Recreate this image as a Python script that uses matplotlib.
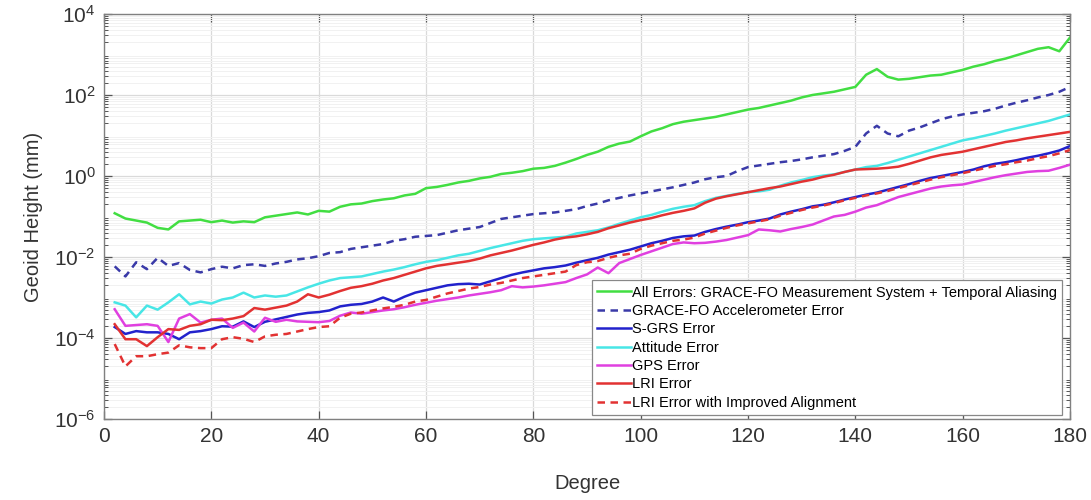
import numpy as np
import matplotlib
matplotlib.use("Agg")
import matplotlib.pyplot as plt
from matplotlib.ticker import LogLocator, NullFormatter

plt.rcParams["font.family"] = ["Liberation Sans", "DejaVu Sans"]
plt.rcParams["mathtext.default"] = "regular"

# spherical harmonic degree, every second degree
degree = np.arange(2, 181, 2)

# log10 of geoid height error (mm) per degree
all_errors = [
    -0.92, -1.05, -1.10, -1.15, -1.28, -1.32, -1.12, -1.10, -1.08, -1.14,
    -1.10, -1.15, -1.12, -1.14, -1.02, -0.98, -0.94, -0.90, -0.95, -0.86,
    -0.88, -0.76, -0.70, -0.68, -0.62, -0.58, -0.55, -0.48, -0.44, -0.30,
    -0.27, -0.22, -0.16, -0.12, -0.06, -0.02, 0.05, 0.08, 0.12, 0.18,
    0.20, 0.25, 0.33, 0.42, 0.52, 0.60, 0.72, 0.80, 0.85, 0.98,
    1.10, 1.18, 1.28, 1.34, 1.38, 1.42, 1.46, 1.52, 1.58, 1.64,
    1.68, 1.74, 1.80, 1.86, 1.94, 2.00, 2.04, 2.08, 2.14, 2.20,
    2.50, 2.64, 2.45, 2.38, 2.40, 2.44, 2.48, 2.50, 2.56, 2.62,
    2.70, 2.76, 2.84, 2.90, 2.98, 3.06, 3.14, 3.18, 3.08, 3.42,
]
accelerometer = [
    -2.23, -2.48, -2.13, -2.30, -2.02, -2.22, -2.15, -2.32, -2.38, -2.30,
    -2.24, -2.28, -2.20, -2.18, -2.22, -2.16, -2.12, -2.06, -2.03, -1.98,
    -1.90, -1.88, -1.80, -1.76, -1.72, -1.68, -1.60, -1.56, -1.50, -1.48,
    -1.46, -1.40, -1.34, -1.30, -1.26, -1.16, -1.06, -1.02, -0.98, -0.94,
    -0.92, -0.90, -0.86, -0.82, -0.74, -0.68, -0.60, -0.54, -0.48, -0.43,
    -0.38, -0.33, -0.28, -0.22, -0.16, -0.08, -0.03, 0.00, 0.12, 0.22,
    0.26, 0.30, 0.34, 0.37, 0.41, 0.46, 0.50, 0.54, 0.62, 0.72,
    1.05, 1.24, 1.05, 0.98, 1.12, 1.20, 1.30, 1.40, 1.47, 1.52,
    1.56, 1.60, 1.66, 1.74, 1.81, 1.87, 1.94, 2.00, 2.08, 2.20,
]
sgrs = [
    -3.73, -3.90, -3.83, -3.86, -3.86, -3.90, -4.03, -3.86, -3.83, -3.78,
    -3.71, -3.72, -3.59, -3.73, -3.60, -3.54, -3.48, -3.42, -3.38, -3.36,
    -3.32, -3.22, -3.18, -3.16, -3.10, -3.00, -3.10, -2.98, -2.88, -2.82,
    -2.76, -2.70, -2.67, -2.66, -2.68, -2.60, -2.52, -2.44, -2.38, -2.33,
    -2.28, -2.25, -2.21, -2.14, -2.08, -2.02, -1.94, -1.88, -1.82, -1.74,
    -1.66, -1.60, -1.53, -1.49, -1.47, -1.38, -1.31, -1.25, -1.20, -1.14,
    -1.10, -1.05, -0.95, -0.88, -0.82, -0.75, -0.71, -0.65, -0.58, -0.52,
    -0.46, -0.41, -0.34, -0.27, -0.20, -0.12, -0.05, 0.00, 0.05, 0.10,
    0.16, 0.24, 0.30, 0.34, 0.39, 0.45, 0.50, 0.56, 0.63, 0.74,
]
attitude = [
    -3.12, -3.20, -3.49, -3.20, -3.30, -3.12, -2.92, -3.17, -3.10, -3.15,
    -3.05, -3.00, -2.88, -3.00, -2.95, -2.98, -2.95, -2.85, -2.75, -2.66,
    -2.58, -2.52, -2.50, -2.48, -2.42, -2.36, -2.31, -2.25, -2.18, -2.12,
    -2.08, -2.02, -1.96, -1.92, -1.85, -1.78, -1.72, -1.66, -1.60, -1.56,
    -1.54, -1.52, -1.50, -1.42, -1.38, -1.34, -1.27, -1.18, -1.10, -1.02,
    -0.96, -0.88, -0.81, -0.76, -0.72, -0.62, -0.54, -0.49, -0.44, -0.40,
    -0.38, -0.34, -0.24, -0.16, -0.10, -0.03, 0.01, 0.04, 0.10, 0.16,
    0.22, 0.25, 0.32, 0.40, 0.48, 0.56, 0.64, 0.72, 0.80, 0.88,
    0.93, 0.99, 1.05, 1.12, 1.18, 1.24, 1.30, 1.36, 1.44, 1.52,
]
gps = [
    -3.29, -3.70, -3.68, -3.66, -3.70, -4.10, -3.52, -3.41, -3.62, -3.55,
    -3.52, -3.75, -3.62, -3.84, -3.50, -3.60, -3.55, -3.59, -3.60, -3.61,
    -3.58, -3.45, -3.37, -3.40, -3.36, -3.32, -3.29, -3.24, -3.18, -3.13,
    -3.08, -3.04, -3.00, -2.95, -2.91, -2.87, -2.82, -2.72, -2.75, -2.73,
    -2.70, -2.66, -2.62, -2.52, -2.43, -2.26, -2.40, -2.15, -2.05, -1.95,
    -1.86, -1.77, -1.68, -1.64, -1.66, -1.65, -1.62, -1.58, -1.52, -1.46,
    -1.32, -1.34, -1.37, -1.31, -1.26, -1.20, -1.10, -1.00, -0.96, -0.88,
    -0.78, -0.72, -0.62, -0.52, -0.45, -0.38, -0.31, -0.26, -0.23, -0.21,
    -0.15, -0.09, -0.03, 0.02, 0.06, 0.10, 0.12, 0.13, 0.20, 0.28,
]
lri = [
    -3.66, -4.03, -4.03, -4.20, -3.98, -3.78, -3.80, -3.70, -3.66, -3.55,
    -3.56, -3.52, -3.46, -3.26, -3.30, -3.25, -3.20, -3.10, -2.92, -3.00,
    -2.93, -2.84, -2.76, -2.72, -2.66, -2.58, -2.52, -2.44, -2.36, -2.28,
    -2.22, -2.18, -2.14, -2.10, -2.04, -1.96, -1.90, -1.84, -1.77, -1.70,
    -1.64, -1.57, -1.52, -1.49, -1.44, -1.38, -1.29, -1.22, -1.15, -1.09,
    -1.04, -0.97, -0.91, -0.86, -0.80, -0.66, -0.56, -0.50, -0.45, -0.40,
    -0.35, -0.30, -0.26, -0.20, -0.14, -0.09, -0.02, 0.03, 0.10, 0.16,
    0.17, 0.18, 0.20, 0.23, 0.30, 0.38, 0.46, 0.52, 0.56, 0.60,
    0.66, 0.72, 0.78, 0.84, 0.88, 0.93, 0.97, 1.01, 1.05, 1.09,
]
lri_aligned = [
    -4.15, -4.70, -4.45, -4.45, -4.40, -4.36, -4.18, -4.23, -4.25, -4.25,
    -4.03, -3.98, -4.02, -4.10, -3.96, -3.92, -3.90, -3.84, -3.78, -3.73,
    -3.71, -3.50, -3.40, -3.37, -3.32, -3.27, -3.23, -3.18, -3.10, -3.06,
    -2.98, -2.90, -2.84, -2.78, -2.74, -2.68, -2.64, -2.58, -2.52, -2.48,
    -2.44, -2.40, -2.36, -2.20, -2.13, -2.10, -2.02, -1.96, -1.92, -1.80,
    -1.72, -1.66, -1.60, -1.57, -1.52, -1.42, -1.35, -1.28, -1.22, -1.17,
    -1.12, -1.07, -0.98, -0.91, -0.84, -0.78, -0.73, -0.67, -0.60, -0.54,
    -0.48, -0.43, -0.37, -0.30, -0.23, -0.16, -0.09, -0.03, 0.02, 0.07,
    0.13, 0.19, 0.25, 0.29, 0.34, 0.38, 0.44, 0.49, 0.56, 0.64,
]

series = [
    (all_errors, "All Errors: GRACE-FO Measurement System + Temporal Aliasing", "#42de42", "-"),
    (accelerometer, "GRACE-FO Accelerometer Error", "#3a3aa8", "--"),
    (sgrs, "S-GRS Error", "#2222cc", "-"),
    (attitude, "Attitude Error", "#48e6e6", "-"),
    (gps, "GPS Error", "#e040e0", "-"),
    (lri, "LRI Error", "#e23232", "-"),
    (lri_aligned, "LRI Error with Improved Alignment", "#e23232", "--"),
]

fig = plt.figure(figsize=(10.91, 5.0), dpi=100)
ax = fig.add_axes([0.0953, 0.162, 0.8855, 0.81])

for vals, label, color, ls in series:
    ax.plot(degree, 10.0 ** np.array(vals), color=color, ls=ls, lw=1.8,
            label=label, dashes=(3, 2.2) if ls == "--" else (None, None))

ax.set_yscale("log")
ax.set_xlim(0, 180)
ax.set_ylim(1e-6, 1e4)
ax.set_xticks(range(0, 181, 20))
ax.set_yticks([1e-6, 1e-4, 1e-2, 1e0, 1e2, 1e4])
ax.yaxis.set_minor_locator(LogLocator(base=10, subs=np.arange(2, 10), numticks=20))
ax.yaxis.set_minor_formatter(NullFormatter())

ax.grid(True, which="major", color="#dadada", lw=0.9)
ax.grid(True, which="minor", axis="y", color="#f1f1f1", lw=0.7)
ax.set_axisbelow(True)

ax.tick_params(which="both", direction="in", top=True, right=True,
               labelsize=15, colors="#555555", labelcolor="#333333")
ax.tick_params(which="major", length=6, width=0.9, pad=6)
ax.tick_params(which="minor", length=3, width=0.7)
for s in ax.spines.values():
    s.set_color("#808080")
    s.set_linewidth(1.0)

ax.set_xlabel("Degree", fontsize=14.5, color="#333333", labelpad=20)
ax.set_ylabel("Geoid Height (mm)", fontsize=14.5, color="#333333", labelpad=8)

leg = ax.legend(loc="lower right", bbox_to_anchor=(0.992, 0.01), borderaxespad=0,
                fontsize=10.5, frameon=True, fancybox=False, framealpha=1,
                edgecolor="#888888", handlelength=2.3, handletextpad=0.1,
                labelspacing=0.3, borderpad=0.35)
leg.get_frame().set_linewidth(0.9)

fig.savefig("out.png", dpi=100)
